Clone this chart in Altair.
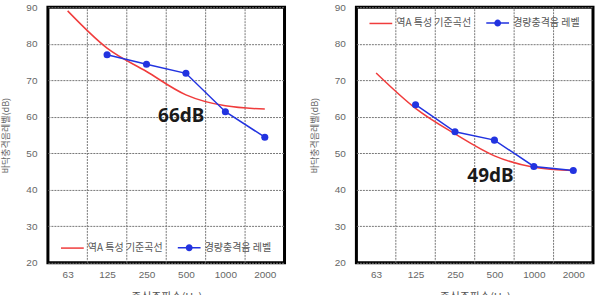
import altair as alt
import pandas as pd

freqs = ["63", "125", "250", "500", "1000", "2000"]
ref_name = "역A 특성 기준곡선"
meas_name = "경량충격음 레벨"

left_ref = [89.0, 78.8, 72.4, 66.0, 63.0, 62.1]
left_meas = [None, 77.0, 74.4, 71.9, 61.4, 54.4]
right_ref = [72.0, 62.3, 55.3, 49.3, 46.2, 45.3]
right_meas = [None, 63.3, 55.9, 53.6, 46.4, 45.3]

left_label = ["66dB"]
left_label_pos = [2.88, 60.2]
right_label = ["49dB"]
right_label_pos = [2.9, 43.9]

y_ticks = [20, 30, 40, 50, 60, 70, 80, 90]

RED = "#f03c3c"
BLUE = "#2233e0"
GRID = "#777"
FONT = "Liberation Sans"

blue_sym = "M-1,0L1,0M-0.24,0A0.24,0.24 0 1,1 0.24,0A0.24,0.24 0 1,1 -0.24,0Z"


def make_df(ref, meas):
    rows = []
    for i, f in enumerate(freqs):
        if ref[i] is not None:
            rows.append({"idx": i, "freq": f, "series": ref_name, "v": ref[i]})
        if meas[i] is not None:
            rows.append({"idx": i, "freq": f, "series": meas_name, "v": meas[i]})
    return pd.DataFrame(rows)


def panel(ref, meas, label, label_pos, legend_y):
    df = make_df(ref, meas)
    n_b = len(freqs) - 1
    bounds_df = pd.DataFrame({"b": [i + 0.5 for i in range(n_b)],
                              "lo": [y_ticks[0]] * n_b,
                              "hi": [y_ticks[-1]] * n_b})
    xscale = alt.Scale(domain=[-0.5, 5.5], nice=False, zero=False)
    yscale = alt.Scale(domain=[20, 90], nice=False, zero=False)
    label_expr = "[" + ",".join("'" + f + "'" for f in freqs) + "][round(datum.value)]"
    x_axis = alt.Axis(values=list(range(len(freqs))), labelExpr=label_expr, grid=False,
                      ticks=False, domain=False, labelFontSize=10, labelColor="#666",
                      labelFont=FONT, labelPadding=7, title="중심주파수(Hz)",
                      titleFontSize=11, titleFontWeight="normal", titleColor="#555",
                      titleFont="Noto Sans CJK KR", titlePadding=12)
    y_axis = alt.Axis(values=y_ticks, grid=True, gridColor=GRID, gridDash=[2, 1],
                      gridWidth=1, ticks=False, domain=False, labelFontSize=10,
                      labelColor="#666", labelFont=FONT, labelPadding=11,
                      labelOverlap=False,
                      title="바닥충격음레벨(dB)", titleFontSize=9, titleColor="#666",
                      titleFontWeight="normal", titleFont="Noto Sans CJK KR",
                      titlePadding=15)

    dom = [ref_name, meas_name]
    legend = alt.Legend(orient="none", legendX=12, legendY=legend_y, direction="horizontal",
                        title=None, symbolSize=520, symbolStrokeWidth=1.5,
                        labelFontSize=10, labelColor="#555",
                        labelFont="Noto Sans CJK KR", labelOffset=3, columnPadding=12)

    X = lambda f: alt.X(f, scale=xscale, axis=x_axis)
    Y = lambda f: alt.Y(f, scale=yscale, axis=y_axis)

    vgrid = alt.Chart(bounds_df).mark_rule(color=GRID, strokeDash=[2, 1], strokeWidth=1).encode(
        x=X("b:Q"), y=Y("lo:Q"), y2="hi:Q",
    )
    ref_line = alt.Chart(df[df["series"] == ref_name]).mark_line(
        strokeWidth=1.5, interpolate="monotone", color=RED).encode(
        x=X("idx:Q"), y=Y("v:Q"))
    meas_line = alt.Chart(df[df["series"] == meas_name]).mark_line(
        strokeWidth=1.5, color=BLUE).encode(
        x=X("idx:Q"), y=Y("v:Q"))
    pts = alt.Chart(df[df["series"] == meas_name]).mark_circle(
        size=50, color=BLUE, opacity=1).encode(
        x=X("idx:Q"), y=Y("v:Q"))
    ann_df = pd.DataFrame({"t": label, "x": [label_pos[0]], "y": [label_pos[1]]})
    ann = alt.Chart(ann_df).mark_text(fontSize=19, fontWeight="bold", color="#1a1a1a",
                                      font="Noto Sans").encode(
        x=X("x:Q"), y=Y("y:Q"), text="t:N")
    legend_src = alt.Chart(df).transform_filter("datum.v < 0").mark_point(
        strokeWidth=1.5, opacity=1).encode(
        x=X("idx:Q"),
        y=Y("v:Q"),
        stroke=alt.Stroke("series:N", scale=alt.Scale(domain=dom, range=[RED, BLUE]), legend=legend),
        fill=alt.Fill("series:N", scale=alt.Scale(domain=dom, range=["transparent", BLUE]), legend=legend),
        shape=alt.Shape("series:N", scale=alt.Scale(domain=dom, range=["stroke", blue_sym]), legend=legend),
    )

    return alt.layer(vgrid, ref_line, meas_line, pts, ann, legend_src).properties(
        width=237, height=256)


left = panel(left_ref, left_meas, left_label, left_label_pos, 228)
right = panel(right_ref, right_meas, right_label, right_label_pos, 3)

chart = alt.hconcat(left, right, spacing=72, bounds="flush").resolve_scale(
    stroke="independent", fill="independent", shape="independent").properties(
    padding={"left": 0, "top": 0, "right": 0, "bottom": 0},
    background="white",
).configure_view(stroke="black", strokeWidth=3)

chart.save("out.html", embed_options={"renderer": "svg", "actions": False})
